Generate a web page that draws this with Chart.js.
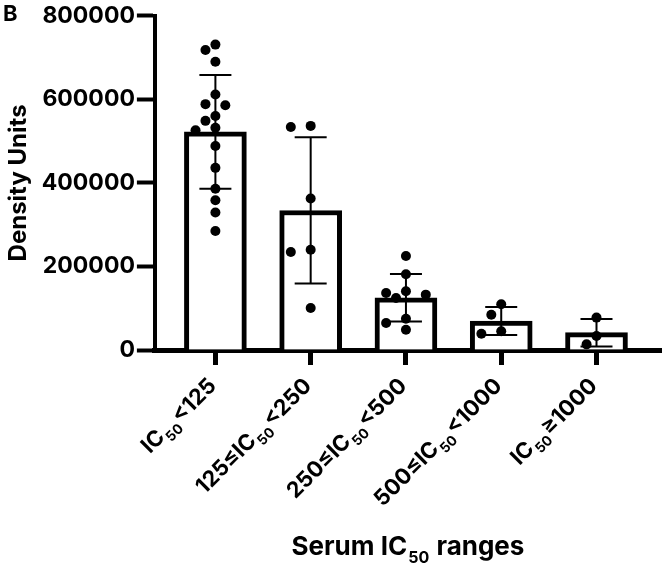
<!DOCTYPE html>
<html>
<head>
<meta charset="utf-8">
<script src="https://cdn.jsdelivr.net/npm/chart.js@4.4.1/dist/chart.umd.min.js"></script>
<style>
  html, body { margin: 0; padding: 0; background: #fff; }
  #wrap { width: 666px; height: 565px; position: relative; }
</style>
</head>
<body>
<div id="wrap"><canvas id="density"></canvas></div>
<script>
// groups on the x axis ("IC50" is drawn with a subscript 50)
const categories = ["IC50<125", "125≤IC50<250", "250≤IC50<500", "500≤IC50<1000", "IC50≥1000"];
const xTitle = "Serum IC50 ranges";

// bar heights (mean) and error bar half-length (SD)
const means = [522000, 334000, 125000, 69500, 41500];
const sds = [136000, 175000, 57000, 33500, 33000];

// individual samples per group
const group1 = [731000, 718000, 690000, 611500, 588500, 586000, 560000, 548500, 532000, 526000, 488500, 436000, 386000, 358500, 329000, 285000];
const group2 = [536500, 534000, 362500, 240000, 234500, 100500];
const group3 = [225000, 181500, 140500, 136500, 132500, 124500, 75000, 64500, 48500];
const group4 = [109500, 84500, 45000, 39000];
const group5 = [77500, 33500, 13500];
const groups = [group1, group2, group3, group4, group5];

const yTicks = [0, 200000, 400000, 600000, 800000];

const FONT = 'Inter, "Liberation Sans", Arial, sans-serif';
Chart.defaults.font.family = FONT;
Chart.defaults.font.weight = "bold";
Chart.defaults.color = "#000";

// split "IC50" into normal + subscript runs
function toRuns(text) {
  const runs = [];
  text.split("IC50").forEach((part, k) => {
    if (k > 0) runs.push(["IC", false], ["50", true]);
    if (part) runs.push([part, false]);
  });
  return runs;
}

function drawRuns(ctx, text, size, align) {
  const runs = toRuns(text);
  const subSize = Math.round(size * 0.62);
  const widths = runs.map(([t, sub]) => {
    ctx.font = `bold ${sub ? subSize : size}px ${FONT}`;
    return ctx.measureText(t).width + (sub ? 2 : 0);
  });
  const total = widths.reduce((a, b) => a + b, 0);
  let px = align === "right" ? -total : align === "center" ? -total / 2 : 0;
  ctx.textAlign = "left";
  ctx.textBaseline = "alphabetic";
  runs.forEach(([t, sub], k) => {
    ctx.font = `bold ${sub ? subSize : size}px ${FONT}`;
    ctx.fillText(t, px + (sub ? 1 : 0), sub ? size * 0.3 : 0);
    px += widths[k];
  });
}

const errorBars = {
  id: "errorBars",
  afterDatasetsDraw(chart) {
    const { ctx, scales: { x, y } } = chart;
    ctx.save();
    ctx.strokeStyle = "#000";
    ctx.lineWidth = 2;
    means.forEach((m, i) => {
      const cx = x.getPixelForValue(i);
      const top = y.getPixelForValue(m + sds[i]);
      const bot = y.getPixelForValue(m - sds[i]);
      ctx.beginPath();
      ctx.moveTo(cx, top);
      ctx.lineTo(cx, bot);
      ctx.moveTo(cx - 16, top);
      ctx.lineTo(cx + 16, top);
      ctx.moveTo(cx - 16, bot);
      ctx.lineTo(cx + 16, bot);
      ctx.stroke();
    });
    ctx.restore();
  },
};

// x tick labels + x title + panel letter, with real subscripts
const textLayer = {
  id: "textLayer",
  afterDraw(chart) {
    const { ctx, scales: { x } } = chart;
    ctx.save();
    ctx.fillStyle = "#000";
    categories.forEach((c, i) => {
      ctx.save();
      ctx.translate(x.getPixelForValue(i) + 2, x.top + 37);
      ctx.rotate(-Math.PI / 4);
      drawRuns(ctx, c, 22, "right");
      ctx.restore();
    });
    ctx.save();
    ctx.translate((x.left + x.right) / 2, 555);
    drawRuns(ctx, xTitle, 26, "center");
    ctx.restore();
    ctx.font = `bold 22px ${FONT}`;
    ctx.textAlign = "left";
    ctx.fillText("B", 3, 21);
    ctx.restore();
  },
};

const chart = new Chart(document.getElementById("density"), {
  type: "bar",
  data: {
    datasets: [
      {
        type: "bar",
        data: means.map((m, i) => ({ x: i, y: m })),
        backgroundColor: "#fff",
        borderColor: "#000",
        borderWidth: 5,
        borderSkipped: "start",
        barThickness: 62,
        order: 2,
      },
      {
        type: "scatter",
        data: [],
        pointRadius: 5,
        pointBackgroundColor: "#000",
        pointBorderWidth: 0,
        order: 1,
      },
    ],
  },
  options: {
    responsive: true,
    maintainAspectRatio: false,
    animation: false,
    layout: {
      padding: { top: 1, right: 1, left: 0, bottom: 200 },
    },
    scales: {
      x: {
        type: "linear",
        offset: false,
        min: -0.635,
        max: 4.677,
        afterBuildTicks: (scale) => {
          scale.ticks = categories.map((_, i) => ({ value: i }));
        },
        grid: {
          offset: false,
          drawOnChartArea: false,
          color: "#000",
          tickLength: 15,
          tickWidth: 5,
        },
        border: { display: true, color: "#000", width: 5 },
        ticks: { display: false },
      },
      y: {
        min: 0,
        max: 800000,
        afterBuildTicks: (scale) => {
          scale.ticks = yTicks.map((v) => ({ value: v }));
        },
        grid: {
          drawOnChartArea: false,
          color: "#000",
          tickLength: 18,
          tickWidth: 4,
        },
        border: { display: true, color: "#000", width: 4 },
        ticks: {
          padding: 2,
          font: { size: 23 },
          callback: (v) => String(v),
        },
        title: {
          display: true,
          text: "Density Units",
          font: { size: 24 },
          padding: { bottom: 7 },
        },
      },
    },
    plugins: {
      legend: { display: false },
      tooltip: { enabled: false },
    },
  },
  plugins: [errorBars, textLayer],
});

// spread the dots sideways so they don't overlap (simple beeswarm)
function spreadDots() {
  const x = chart.scales.x;
  const y = chart.scales.y;
  const pxPerUnit = x.getPixelForValue(1) - x.getPixelForValue(0);
  const offsets = [0, -10, 10, -20, 20, -30, 30];
  const pts = [];
  groups.forEach((vals, i) => {
    const placed = [];
    [...vals].sort((a, b) => b - a).forEach((v) => {
      const py = y.getPixelForValue(v);
      let dx = offsets.find((o) => placed.every((p) => Math.hypot(p.dx - o, p.py - py) >= 11));
      if (dx === undefined) dx = 0;
      placed.push({ dx, py });
      pts.push({ x: i + dx / pxPerUnit, y: v });
    });
  });
  chart.data.datasets[1].data = pts;
  chart.update("none");
}
spreadDots();
</script>
</body>
</html>
